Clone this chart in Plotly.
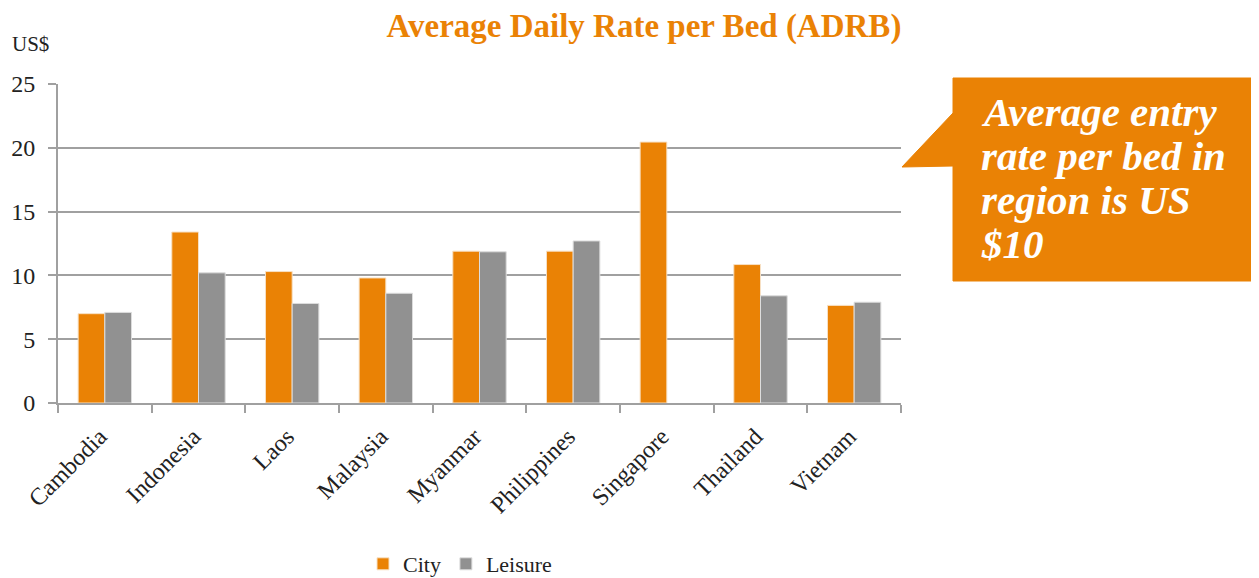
import plotly.graph_objects as go

countries = ["Cambodia", "Indonesia", "Laos", "Malaysia", "Myanmar",
             "Philippines", "Singapore", "Thailand", "Vietnam"]
city = [7.0, 13.4, 10.3, 9.8, 11.9, 11.9, 20.45, 10.85, 7.65]
leisure = [7.1, 10.2, 7.8, 8.6, 11.85, 12.7, None, 8.4, 7.9]
y_ticks = [0, 5, 10, 15, 20, 25]
callout_lines = ["Average entry", "rate per bed in", "region is US", "$10"]

ORANGE = "#EA8205"
GRAY = "#919191"
FONT = "Liberation Serif"

OFF = 8  # page body margin offset
W, H = 1259 - OFF, 578 - OFF
# target plot area in window pixels
X0, X1, Y0, Y1 = 58, 901, 84, 403
L, T = X0 - OFF, Y0 - OFF
pw, ph = X1 - X0, Y1 - Y0
R, B = W - L - pw, H - T - ph


def px(x):
    return (x - X0) / pw


def py(y):
    return (Y1 - y) / ph


fig = go.Figure()
fig.add_bar(x=countries, y=city, name="City", marker=dict(color=ORANGE, line=dict(color="#f7e0c4", width=1)))
fig.add_bar(x=countries, y=leisure, name="Leisure", marker=dict(color=GRAY, line=dict(color="#dddddd", width=1)))

fig.update_layout(
    width=W, height=H,
    margin=dict(l=L, r=R, t=T, b=B, autoexpand=False),
    plot_bgcolor="white", paper_bgcolor="white",
    barmode="group", bargap=0.43, bargroupgap=0,
    font=dict(family=FONT, size=20, color="#222222"),
    title=dict(text="<b>Average Daily Rate per Bed (ADRB)</b>",
               font=dict(family=FONT, size=33, color=ORANGE),
               x=(644 - OFF) / W, xanchor="center", xref="container",
               y=1 - (25 - OFF) / H, yanchor="middle", yref="container"),
    legend=dict(orientation="h", x=px(460), xanchor="center", y=py(564), yanchor="middle",
                font=dict(family=FONT, size=22), itemwidth=30, traceorder="normal"),
    showlegend=True,
)

fig.update_xaxes(
    automargin=False,
    showline=True, linecolor="#a0a0a0", linewidth=2,
    ticks="outside", ticklen=8, tickcolor="#a0a0a0", tickwidth=2,
    tickson="boundaries", tickangle=-45, ticklabelshift=-5, ticklabelstandoff=8,
    tickfont=dict(family=FONT, size=24, color="#222222"),
)
fig.update_yaxes(
    automargin=False,
    range=[0, 25], tickvals=y_ticks, showgrid=True, gridcolor="#a0a0a0", gridwidth=2,
    showline=True, linecolor="#a0a0a0", linewidth=2,
    ticks="outside", ticklen=8, tickcolor="#a0a0a0", tickwidth=2, ticklabelstandoff=8,
    tickfont=dict(family=FONT, size=24, color="#222222"), zeroline=False,
)

fig.add_annotation(text="US$", xref="paper", yref="paper", x=px(10), y=py(44),
                   xanchor="left", yanchor="middle", showarrow=False,
                   font=dict(family=FONT, size=21, color="#222222"))

# callout box
fig.add_shape(type="path", xref="paper", yref="paper",
              path=(f"M {px(953)} {py(78)} L {px(1252)} {py(78)} L {px(1252)} {py(281)} "
                    f"L {px(953)} {py(281)} L {px(953)} {py(166)} L {px(902)} {py(167)} "
                    f"L {px(953)} {py(113)} Z"),
              fillcolor=ORANGE, line=dict(color=ORANGE, width=1), layer="above")
for i, line in enumerate(callout_lines):
    fig.add_annotation(
        text=f"<b><i>{line}</i></b>",
        xref="paper", yref="paper", x=px(979), y=py(112 + 44 * i), xanchor="left", yanchor="middle",
        align="left", showarrow=False,
        font=dict(family=FONT, size=41, color="white"))

fig.write_html("out.html")
